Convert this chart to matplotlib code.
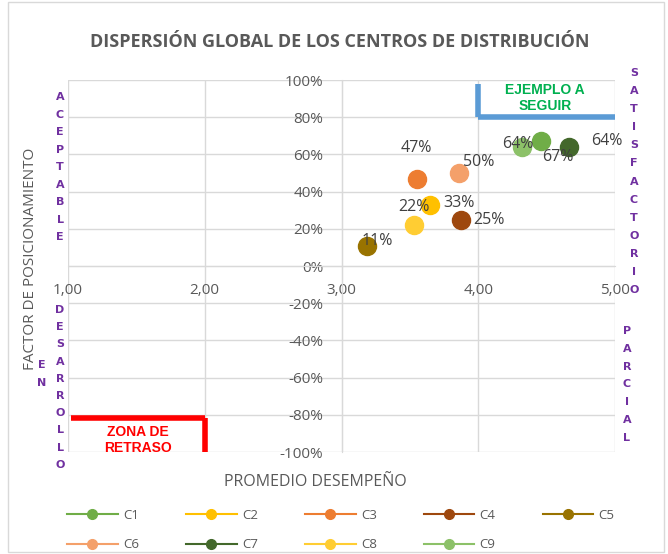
import matplotlib
matplotlib.use("Agg")
import matplotlib.pyplot as plt
from matplotlib.lines import Line2D
from matplotlib.patches import Rectangle

# ---- data ----
series = ["C1", "C2", "C3", "C4", "C5", "C6", "C7", "C8", "C9"]
x_vals = [4.46, 3.65, 3.55, 3.875, 3.19, 3.86, 4.66, 3.53, 4.32]
y_vals = [0.67, 0.33, 0.47, 0.25, 0.11, 0.50, 0.64, 0.22, 0.64]
colors = ["#70AD47", "#FFC000", "#ED7D31", "#9E480E", "#997300",
          "#F4A06A", "#43682B", "#FFCD33", "#8CC168"]
# label offsets in points (dx, dy)
label_off = [(12, -11), (9, 1), (0, 22), (9, 0), (7, 3),
             (3, 8), (16, 4), (0, 13), (-3, 2)]
label_ha = ["center", "left", "center", "left", "center",
            "left", "left", "center", "center"]

x_ticks = [1, 2, 3, 4, 5]
x_tick_labels = ["1,00", "2,00", "3,00", "4,00", "5,00"]
y_ticks = [-1.0, -0.8, -0.6, -0.4, -0.2, 0.0, 0.2, 0.4, 0.6, 0.8, 1.0]
y_tick_labels = ["-100%", "-80%", "-60%", "-40%", "-20%", "0%",
                 "20%", "40%", "60%", "80%", "100%"]

W, H = 668, 554
fig = plt.figure(figsize=(W / 100, H / 100), dpi=100)
plt.rcParams['font.family'] = ['Open Sans', 'DejaVu Sans']

def fx(px):
    return px / W

def fy(py):
    return 1 - py / H

ax = fig.add_axes([fx(68), fy(452), fx(615) - fx(68), fy(80) - fy(452)])
ax.set_xlim(1, 5)
ax.set_ylim(-1, 1)
ax.set_xticks(x_ticks)
ax.set_xticklabels(x_tick_labels)
ax.set_yticks(y_ticks)
ax.set_yticklabels(y_tick_labels)
ax.grid(True, color="#D9D9D9", linewidth=1)
ax.set_axisbelow(True)
for s in ["top", "right"]:
    ax.spines[s].set_visible(False)
ax.spines["left"].set_position(("data", 3))
ax.spines["bottom"].set_position(("data", 0))
ax.spines["left"].set_color("#D9D9D9")
ax.spines["bottom"].set_color("#D9D9D9")
ax.tick_params(length=0, labelsize=11, colors="#595959")
ax.tick_params(axis="x", pad=12)
ax.tick_params(axis="y", pad=13)

for i, s in enumerate(series):
    ax.plot(x_vals[i], y_vals[i], marker="o", markersize=13,
            color=colors[i], linestyle="none", zorder=3)
    ax.annotate(f"{round(y_vals[i]*100):.0f}%", (x_vals[i], y_vals[i]),
                xytext=label_off[i], textcoords="offset points",
                ha=label_ha[i], va="center", fontsize=11.5, color="#404040",
                zorder=4)

# zone shapes
ax.plot([1.02, 2.0], [-0.815, -0.815], color="#FF0000", lw=4, solid_capstyle="butt", zorder=5, clip_on=False)
ax.plot([2.0, 2.0], [-0.815, -1.0], color="#FF0000", lw=4, solid_capstyle="butt", zorder=5, clip_on=False)
ax.plot([4.0, 4.0], [0.98, 0.8], color="#5B9BD5", lw=4, solid_capstyle="butt", zorder=5, clip_on=False)
ax.plot([4.0, 5.0], [0.8, 0.8], color="#5B9BD5", lw=4, solid_capstyle="butt", zorder=5, clip_on=False)

fig.text(fx(138), fy(440), "ZONA DE\nRETRASO", color="#FF0000", fontsize=10,
         fontweight="bold", ha="center", va="center", linespacing=1.2,
         family=["Liberation Sans"])
fig.text(fx(545), fy(98), "EJEMPLO A\nSEGUIR", color="#00B050", fontsize=10,
         fontweight="bold", ha="center", va="center", linespacing=1.2,
         family=["Liberation Sans"])

# titles
fig.text(fx(340), fy(42), "DISPERSIÓN GLOBAL DE LOS CENTROS DE DISTRIBUCIÓN",
         ha="center", va="center", fontsize=13, fontweight="bold",
         color="#595959", family=["Open Sans"])
fig.text(fx(31), fy(259), "FACTOR DE POSICIONAMIENTO", rotation=90,
         ha="center", va="center", fontsize=11, color="#595959")
fig.text(fx(315), fy(482), "PROMEDIO DESEMPEÑO",
         ha="center", va="center", fontsize=11.5, color="#595959")

# vertical purple words
def vword(word, x, y0, step):
    for k, ch in enumerate(word):
        fig.text(fx(x), fy(y0 + k * step), ch, ha="center", va="center",
                 fontsize=8, fontweight="heavy", color="#7030A0",
                 family=["DejaVu Sans"])

vword("ACEPTABLE", 60, 97, 17.5)
vword("DESARROLLO", 60, 310, 17.2)
vword("EN", 42, 365, 17.5)
vword("SATISFACTORIO", 634, 73, 18.1)
vword("PARCIAL", 627, 331, 17.8)

# legend (row-major order: C1..C5 on first row, C6..C9 on second)
order = [0, 5, 1, 6, 2, 7, 3, 8, 4]
handles = [Line2D([0], [0], color=colors[i], marker="o", markersize=7, lw=1.5)
           for i in order]
labels = [series[i] for i in order]
leg = fig.legend(handles, labels, loc="upper left", ncol=5,
                 bbox_to_anchor=(fx(67), fy(509)), frameon=False,
                 borderpad=0, borderaxespad=0,
                 fontsize=9.5, handlelength=3.85, columnspacing=3.55,
                 handletextpad=0.4, labelspacing=1.25, labelcolor="#595959")

# outer border
fig.add_artist(Rectangle((fx(8), fy(552)), fx(664) - fx(8), fy(2) - fy(552),
                         transform=fig.transFigure, fill=False,
                         edgecolor="#D9D9D9", lw=1))

fig.savefig("out.png", dpi=100)
